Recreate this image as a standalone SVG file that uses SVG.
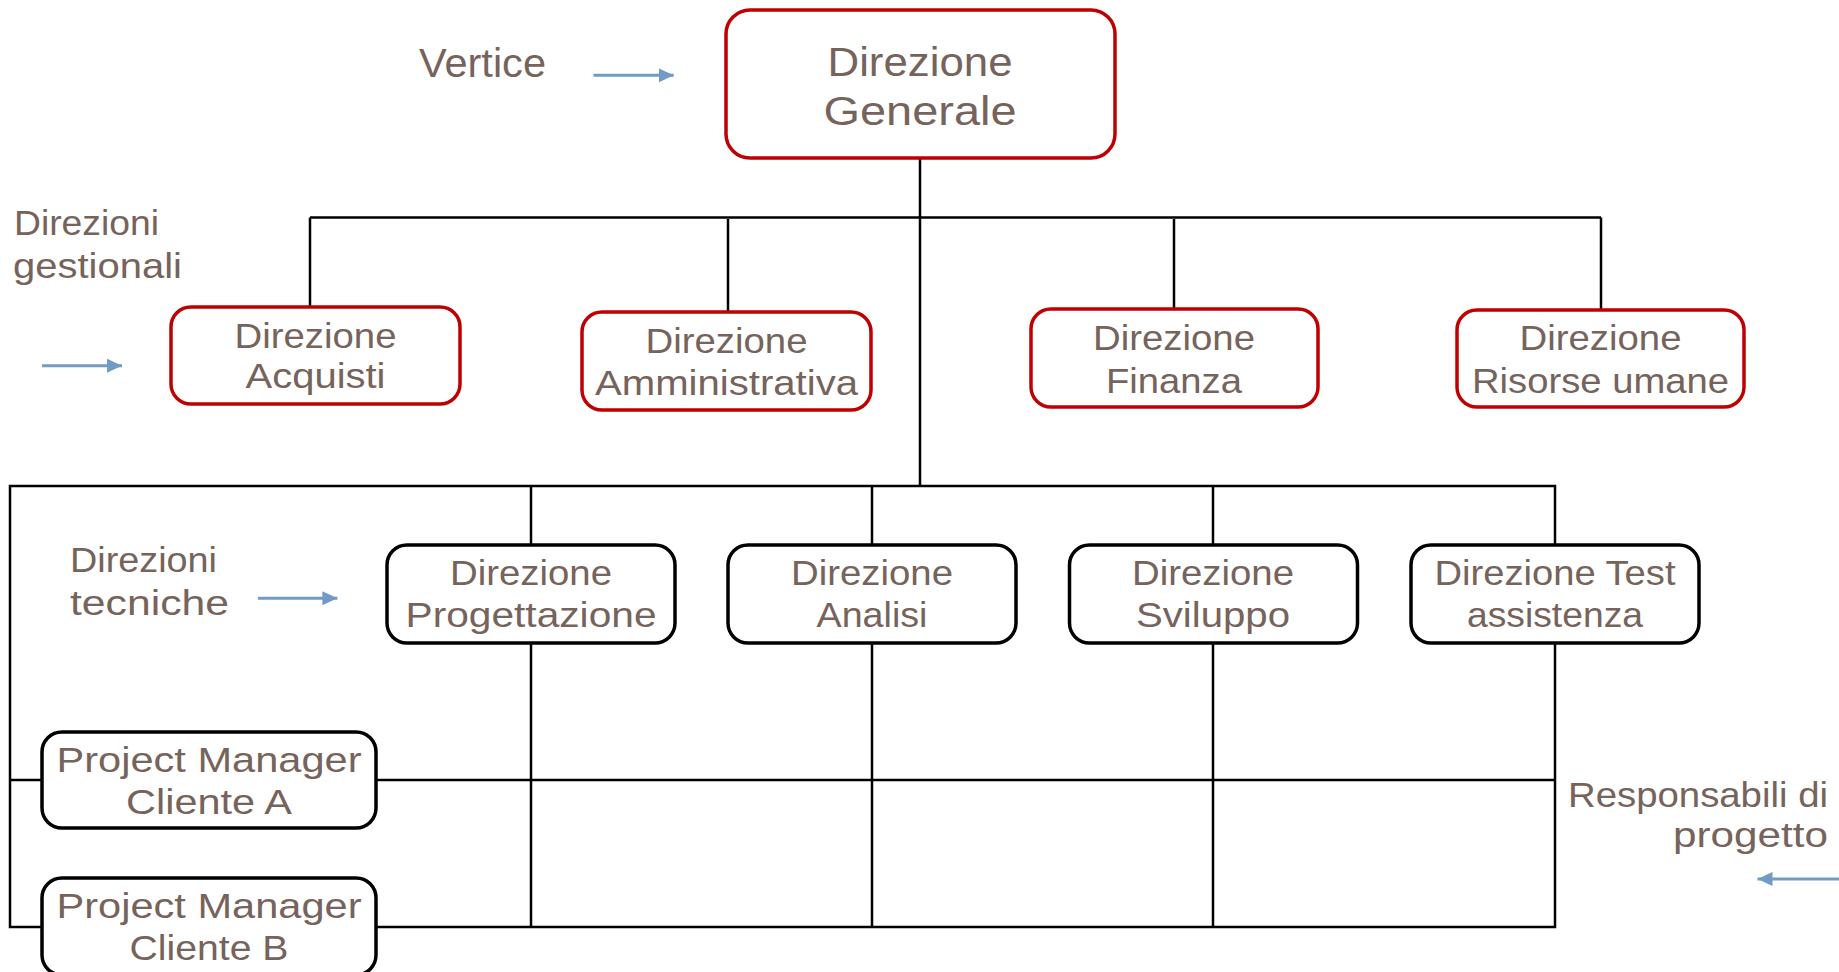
<svg xmlns="http://www.w3.org/2000/svg" width="1839" height="972" viewBox="0 0 1839 972">
<defs>
<style>
.t{font-family:"Liberation Sans",Arial,sans-serif;fill:#76635B;font-size:35px}
.big{font-size:40px}
.c{text-anchor:middle}
.e{text-anchor:end}
.red{fill:#fff;stroke:#C00000;stroke-width:3.5}
.blk{fill:#fff;stroke:#000;stroke-width:3.5}
.ln{fill:none;stroke:#000;stroke-width:2.5}
.ar{fill:none;stroke:#6F9BC6;stroke-width:3}
</style>
<marker id="ah" markerUnits="userSpaceOnUse" markerWidth="16" markerHeight="16" refX="15" refY="8" orient="auto">
<path d="M0,1 L15,8 L0,15 Z" fill="#6F9BC6"/>
</marker>
</defs>
<rect width="1839" height="972" fill="#fff"/>
<g id="connectors">
<path class="ln" d="M920 158 V486"/>
<path class="ln" d="M310 217.5 H1601"/>
<path class="ln" d="M310 217.5 V308"/>
<path class="ln" d="M728 219 V313"/>
<path class="ln" d="M1174 219 V310"/>
<path class="ln" d="M1601 217.5 V310"/>
<rect class="ln" x="10" y="486" width="1545" height="441"/>
<path class="ln" d="M10 780 H1555"/>
<path class="ln" d="M531 486 V927"/>
<path class="ln" d="M872 486 V927"/>
<path class="ln" d="M1213 486 V927"/>
</g>
<g id="arrows">
<path class="ar" d="M593.5 75.3 H673.7" marker-end="url(#ah)"/>
<path class="ar" d="M42 365.7 H122" marker-end="url(#ah)"/>
<path class="ar" d="M258 598.3 H337.4" marker-end="url(#ah)"/>
<path class="ar" d="M1839 879 H1757.5" marker-end="url(#ah)"/>
</g>
<g id="labels">
<text class="t big" x="419" y="77" textLength="127" lengthAdjust="spacingAndGlyphs">Vertice</text>
<text class="t" x="14" y="235" textLength="145" lengthAdjust="spacingAndGlyphs">Direzioni</text>
<text class="t" x="13" y="278" textLength="169" lengthAdjust="spacingAndGlyphs">gestionali</text>
<text class="t" x="70" y="572" textLength="147" lengthAdjust="spacingAndGlyphs">Direzioni</text>
<text class="t" x="70" y="615" textLength="159" lengthAdjust="spacingAndGlyphs">tecniche</text>
<text class="t e" x="1828" y="807" textLength="260" lengthAdjust="spacingAndGlyphs">Responsabili di</text>
<text class="t e" x="1828" y="847" textLength="155" lengthAdjust="spacingAndGlyphs">progetto</text>
</g>
<g id="direzione-generale">
<rect class="red" x="726" y="10" width="389" height="148" rx="24"/>
<text class="t big c" x="920" y="76" textLength="185" lengthAdjust="spacingAndGlyphs">Direzione</text>
<text class="t big c" x="920" y="125" textLength="193" lengthAdjust="spacingAndGlyphs">Generale</text>
</g>
<g id="direzione-acquisti">
<rect class="red" x="171" y="307" width="289" height="97" rx="20"/>
<text class="t c" x="315.5" y="348" textLength="162" lengthAdjust="spacingAndGlyphs">Direzione</text>
<text class="t c" x="315.5" y="388" textLength="140" lengthAdjust="spacingAndGlyphs">Acquisti</text>
</g>
<g id="direzione-amministrativa">
<rect class="red" x="582" y="312" width="289" height="98" rx="20"/>
<text class="t c" x="726.5" y="353" textLength="162" lengthAdjust="spacingAndGlyphs">Direzione</text>
<text class="t c" x="726.5" y="395" textLength="263" lengthAdjust="spacingAndGlyphs">Amministrativa</text>
</g>
<g id="direzione-finanza">
<rect class="red" x="1031" y="309" width="287" height="98" rx="20"/>
<text class="t c" x="1174" y="350" textLength="162" lengthAdjust="spacingAndGlyphs">Direzione</text>
<text class="t c" x="1174" y="392.5" textLength="136" lengthAdjust="spacingAndGlyphs">Finanza</text>
</g>
<g id="direzione-risorse-umane">
<rect class="red" x="1457" y="310" width="287" height="97" rx="20"/>
<text class="t c" x="1600.5" y="350" textLength="162" lengthAdjust="spacingAndGlyphs">Direzione</text>
<text class="t c" x="1600.5" y="393" textLength="257" lengthAdjust="spacingAndGlyphs">Risorse umane</text>
</g>
<g id="direzione-progettazione">
<rect class="blk" x="387" y="545" width="288" height="98" rx="20"/>
<text class="t c" x="531" y="585" textLength="162" lengthAdjust="spacingAndGlyphs">Direzione</text>
<text class="t c" x="531" y="627" textLength="251" lengthAdjust="spacingAndGlyphs">Progettazione</text>
</g>
<g id="direzione-analisi">
<rect class="blk" x="728" y="545" width="288" height="98" rx="20"/>
<text class="t c" x="872" y="585" textLength="162" lengthAdjust="spacingAndGlyphs">Direzione</text>
<text class="t c" x="872" y="627" textLength="111" lengthAdjust="spacingAndGlyphs">Analisi</text>
</g>
<g id="direzione-sviluppo">
<rect class="blk" x="1069.5" y="545" width="288" height="98" rx="20"/>
<text class="t c" x="1213" y="585" textLength="162" lengthAdjust="spacingAndGlyphs">Direzione</text>
<text class="t c" x="1213" y="627" textLength="154" lengthAdjust="spacingAndGlyphs">Sviluppo</text>
</g>
<g id="direzione-test-assistenza">
<rect class="blk" x="1411" y="545" width="288" height="98" rx="20"/>
<text class="t c" x="1555" y="585" textLength="241" lengthAdjust="spacingAndGlyphs">Direzione Test</text>
<text class="t c" x="1555" y="627" textLength="176" lengthAdjust="spacingAndGlyphs">assistenza</text>
</g>
<g id="pm-cliente-a">
<rect class="blk" x="42" y="732" width="334" height="96" rx="20"/>
<text class="t c" x="209" y="772" textLength="305" lengthAdjust="spacingAndGlyphs">Project Manager</text>
<text class="t c" x="209" y="814" textLength="166" lengthAdjust="spacingAndGlyphs">Cliente A</text>
</g>
<g id="pm-cliente-b">
<rect class="blk" x="42" y="878" width="334" height="97" rx="20"/>
<text class="t c" x="209" y="918" textLength="305" lengthAdjust="spacingAndGlyphs">Project Manager</text>
<text class="t c" x="209" y="960" textLength="159" lengthAdjust="spacingAndGlyphs">Cliente B</text>
</g>
</svg>
